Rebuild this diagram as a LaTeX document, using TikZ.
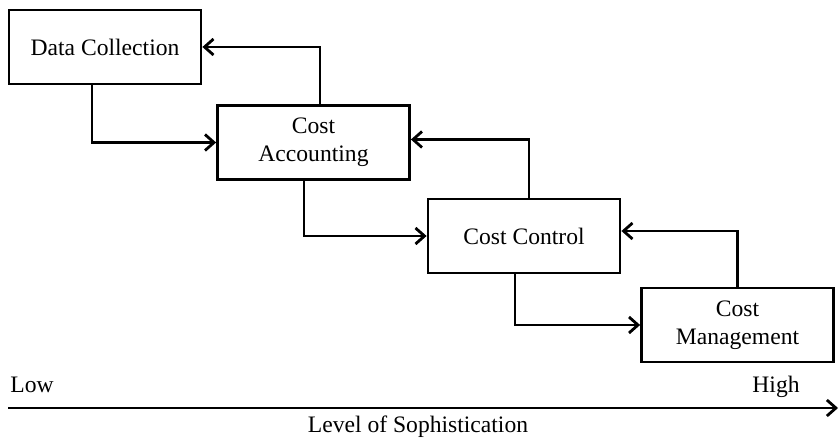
\documentclass[tikz,border=0pt]{standalone}
\usepackage{fontspec}
\setmainfont{Liberation Serif}
\usetikzlibrary{arrows.meta}

\tikzset{
    stage/.style={draw, line width=1.4pt, minimum width=96pt, minimum height=37pt,
        align=center, inner sep=2pt, font=\fontsize{11.8}{14}\selectfont},
    flow/.style={line width=1.4pt, -{Straight Barb[length=4.5pt,width=8pt,line width=1.4pt]}},
    axislabel/.style={font=\fontsize{11.8}{14}\selectfont, inner sep=0pt}
}

\begin{document}
\begin{tikzpicture}[x=0.5pt, y=-0.5pt]
        \useasboundingbox (0, 0) rectangle (840, 438);

        % Stages
        \node[stage] (collect) at (105, 47) {Data Collection};
        \node[stage] (account) at (313.5, 142.5) {Cost\\Accounting};
        \node[stage] (control) at (524, 236) {Cost Control};
        \node[stage] (manage) at (737.5, 325) {Cost\\Management};

        % Forward
        \draw[flow] ([xshift=-6.5pt]collect.south) |- (account.west);
        \draw[flow] ([xshift=-4.75pt]account.south) |- (control.west);
        \draw[flow] ([xshift=-4.5pt]control.south) |- (manage.west);

        % Feedback
        \draw[flow] ([xshift=3.25pt]account.north) |- (collect.east);
        \draw[flow] ([xshift=2.5pt]control.north) |- ([yshift=1.5pt]account.east);
        \draw[flow] (manage.north) |- ([yshift=2.5pt]control.east);

        % Axis
        \coordinate (lo) at (8, 408);
        \coordinate (hi) at (838, 408);
        \draw[flow] (lo) -- (hi);
        \node[axislabel, anchor=base west] (low) at (10, 392) {Low};
        \node[axislabel, anchor=base east] (high) at (800, 392) {High};
        \node[axislabel, anchor=base] (level) at (418, 432) {Level of Sophistication};
\end{tikzpicture}
\end{document}
